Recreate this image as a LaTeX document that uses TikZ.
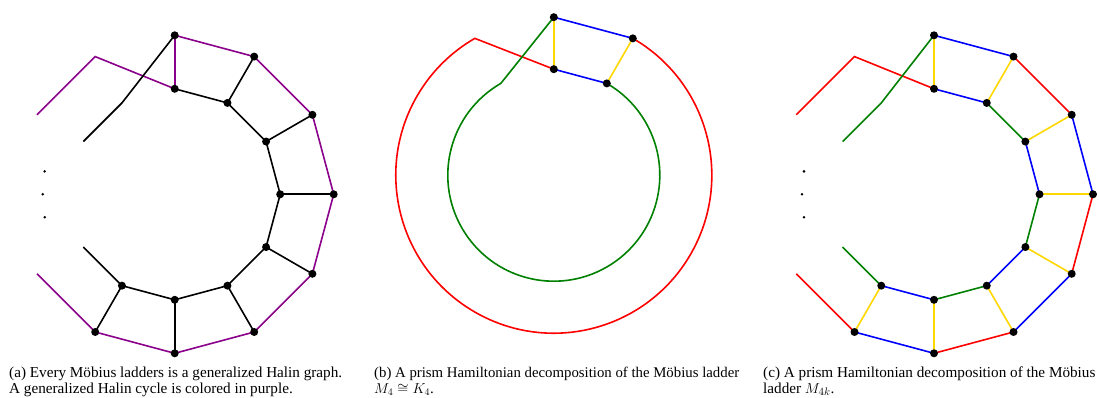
\documentclass[tikz,border=0pt]{standalone}
\usepackage{fontspec}
\setmainfont{Liberation Serif}
\pgfdeclarelayer{bg}
\pgfsetlayers{bg,main}
\definecolor{hpurple}{RGB}{139,0,139}
\definecolor{hred}{RGB}{255,0,0}
\definecolor{hblue}{RGB}{0,0,255}
\definecolor{hgreen}{RGB}{0,128,0}
\definecolor{hyellow}{RGB}{255,215,0}
\tikzset{
  vdot/.style={circle,fill=black,inner sep=0pt,minimum size=8pt},
  edot/.style={circle,fill=black,inner sep=0pt,minimum size=2.8pt},
  edge/.style={line width=1.6pt},
  captext/.style={anchor=base west,inner sep=0pt,font=\fontsize{15.2}{16}\selectfont},
  captextb/.style={anchor=base west,inner sep=0pt,font=\fontsize{14.8}{16}\selectfont}
}
\begin{document}
\begin{tikzpicture}[x=1pt,y=1pt]
\useasboundingbox (0,0) rectangle (1099,398);
% ---------------- panel (a)
\begin{scope}[shift={(174.7,203.7)}]
  \foreach \i [evaluate=\i as \a using 90-30*\i] in {0,...,7} {
    \node[vdot] (Ao\i) at (\a:159pt) {};
    \node[vdot] (Ai\i) at (\a:105.5pt) {};
  }
  \coordinate (AoL) at (120:159pt);
  \coordinate (AoLL) at (150:159pt);
  \coordinate (Ao8) at (210:159pt);
  \coordinate (AiL) at (120:105.5pt);
  \coordinate (AiLL) at (150:105.5pt);
  \coordinate (Ai8) at (210:105.5pt);
  \node[edot] (Ae1) at (170:132pt) {};
  \node[edot] (Ae2) at (180:132pt) {};
  \node[edot] (Ae3) at (190:132pt) {};
  \begin{pgfonlayer}{bg}
    \draw[edge,hpurple] (AoLL) -- (AoL) -- (Ai0.center);
    \draw[edge,hpurple] (Ao0.center) -- (Ai0.center);
    \draw[edge,hpurple] (Ao0.center) -- (Ao1.center) -- (Ao2.center) -- (Ao3.center) -- (Ao4.center) -- (Ao5.center) -- (Ao6.center) -- (Ao7.center) -- (Ao8);
    \draw[edge] (Ao0.center) -- (AiL) -- (AiLL);
    \draw[edge] (Ai0.center) -- (Ai1.center) -- (Ai2.center) -- (Ai3.center) -- (Ai4.center) -- (Ai5.center) -- (Ai6.center) -- (Ai7.center) -- (Ai8);
    \foreach \i in {1,...,7} { \draw[edge] (Ao\i.center) -- (Ai\i.center); }
  \end{pgfonlayer}
\end{scope}
% ---------------- panel (b)
\begin{scope}[shift={(553.8,222.8)}]
  \node[vdot] (Bo0) at (90:158pt) {};
  \node[vdot] (Bo1) at (60:158pt) {};
  \node[vdot] (Bi0) at (90:106pt) {};
  \node[vdot] (Bi1) at (60:106pt) {};
  \coordinate (BoL) at (120:158pt);
  \coordinate (BiL) at (120:106pt);
  \begin{pgfonlayer}{bg}
    \draw[edge,hred] (Bo1.center) arc[start angle=60,end angle=-240,radius=158pt] -- (Bi0.center);
    \draw[edge,hgreen] (Bo0.center) -- (BiL) arc[start angle=120,end angle=420,radius=106pt];
    \draw[edge,hblue] (Bo0.center) -- (Bo1.center);
    \draw[edge,hblue] (Bi0.center) -- (Bi1.center);
    \draw[edge,hyellow] (Bo0.center) -- (Bi0.center);
    \draw[edge,hyellow] (Bo1.center) -- (Bi1.center);
  \end{pgfonlayer}
\end{scope}
% ---------------- panel (c)
\begin{scope}[shift={(934,203.7)}]
  \foreach \i [evaluate=\i as \a using 90-30*\i] in {0,...,7} {
    \node[vdot] (Co\i) at (\a:159pt) {};
    \node[vdot] (Ci\i) at (\a:105.5pt) {};
  }
  \coordinate (CoL) at (120:159pt);
  \coordinate (CoLL) at (150:159pt);
  \coordinate (Co8) at (210:159pt);
  \coordinate (CiL) at (120:105.5pt);
  \coordinate (CiLL) at (150:105.5pt);
  \coordinate (Ci8) at (210:105.5pt);
  \node[edot] (Ce1) at (170:132pt) {};
  \node[edot] (Ce2) at (180:132pt) {};
  \node[edot] (Ce3) at (190:132pt) {};
  \begin{pgfonlayer}{bg}
    \draw[edge,hred] (CoLL) -- (CoL) -- (Ci0.center);
    \draw[edge,hgreen] (Co0.center) -- (CiL) -- (CiLL);
    \draw[edge,hyellow] (Co0.center) -- (Ci0.center);
    \foreach \i/\j/\c in {0/1/hblue,1/2/hred,2/3/hblue,3/4/hred,4/5/hblue,5/6/hred,6/7/hblue} {
      \draw[edge,\c] (Co\i.center) -- (Co\j.center);
    }
    \draw[edge,hred] (Co7.center) -- (Co8);
    \foreach \i/\j/\c in {0/1/hblue,1/2/hgreen,2/3/hblue,3/4/hgreen,4/5/hblue,5/6/hgreen,6/7/hblue} {
      \draw[edge,\c] (Ci\i.center) -- (Ci\j.center);
    }
    \draw[edge,hgreen] (Ci7.center) -- (Ci8);
    \foreach \i in {1,...,7} { \draw[edge,hyellow] (Co\i.center) -- (Ci\i.center); }
  \end{pgfonlayer}
\end{scope}
% ---------------- captions
\node[captext] (capA1) at (9,20.8) {(a) Every Möbius ladders is a generalized Halin graph.};
\node[captext] (capA2) at (9,4.8) {A generalized Halin cycle is colored in purple.};
\node[captextb] (capB1) at (374,20.8) {(b) A prism Hamiltonian decomposition of the Möbius ladder};
\node[captextb] (capB2) at (374,4.8) {$M_4\cong K_4$.};
\node[captext] (capC1) at (763,20.8) {(c) A prism Hamiltonian decomposition of the Möbius};
\node[captext] (capC2) at (763,4.8) {ladder $M_{4k}$.};
\end{tikzpicture}
\end{document}
